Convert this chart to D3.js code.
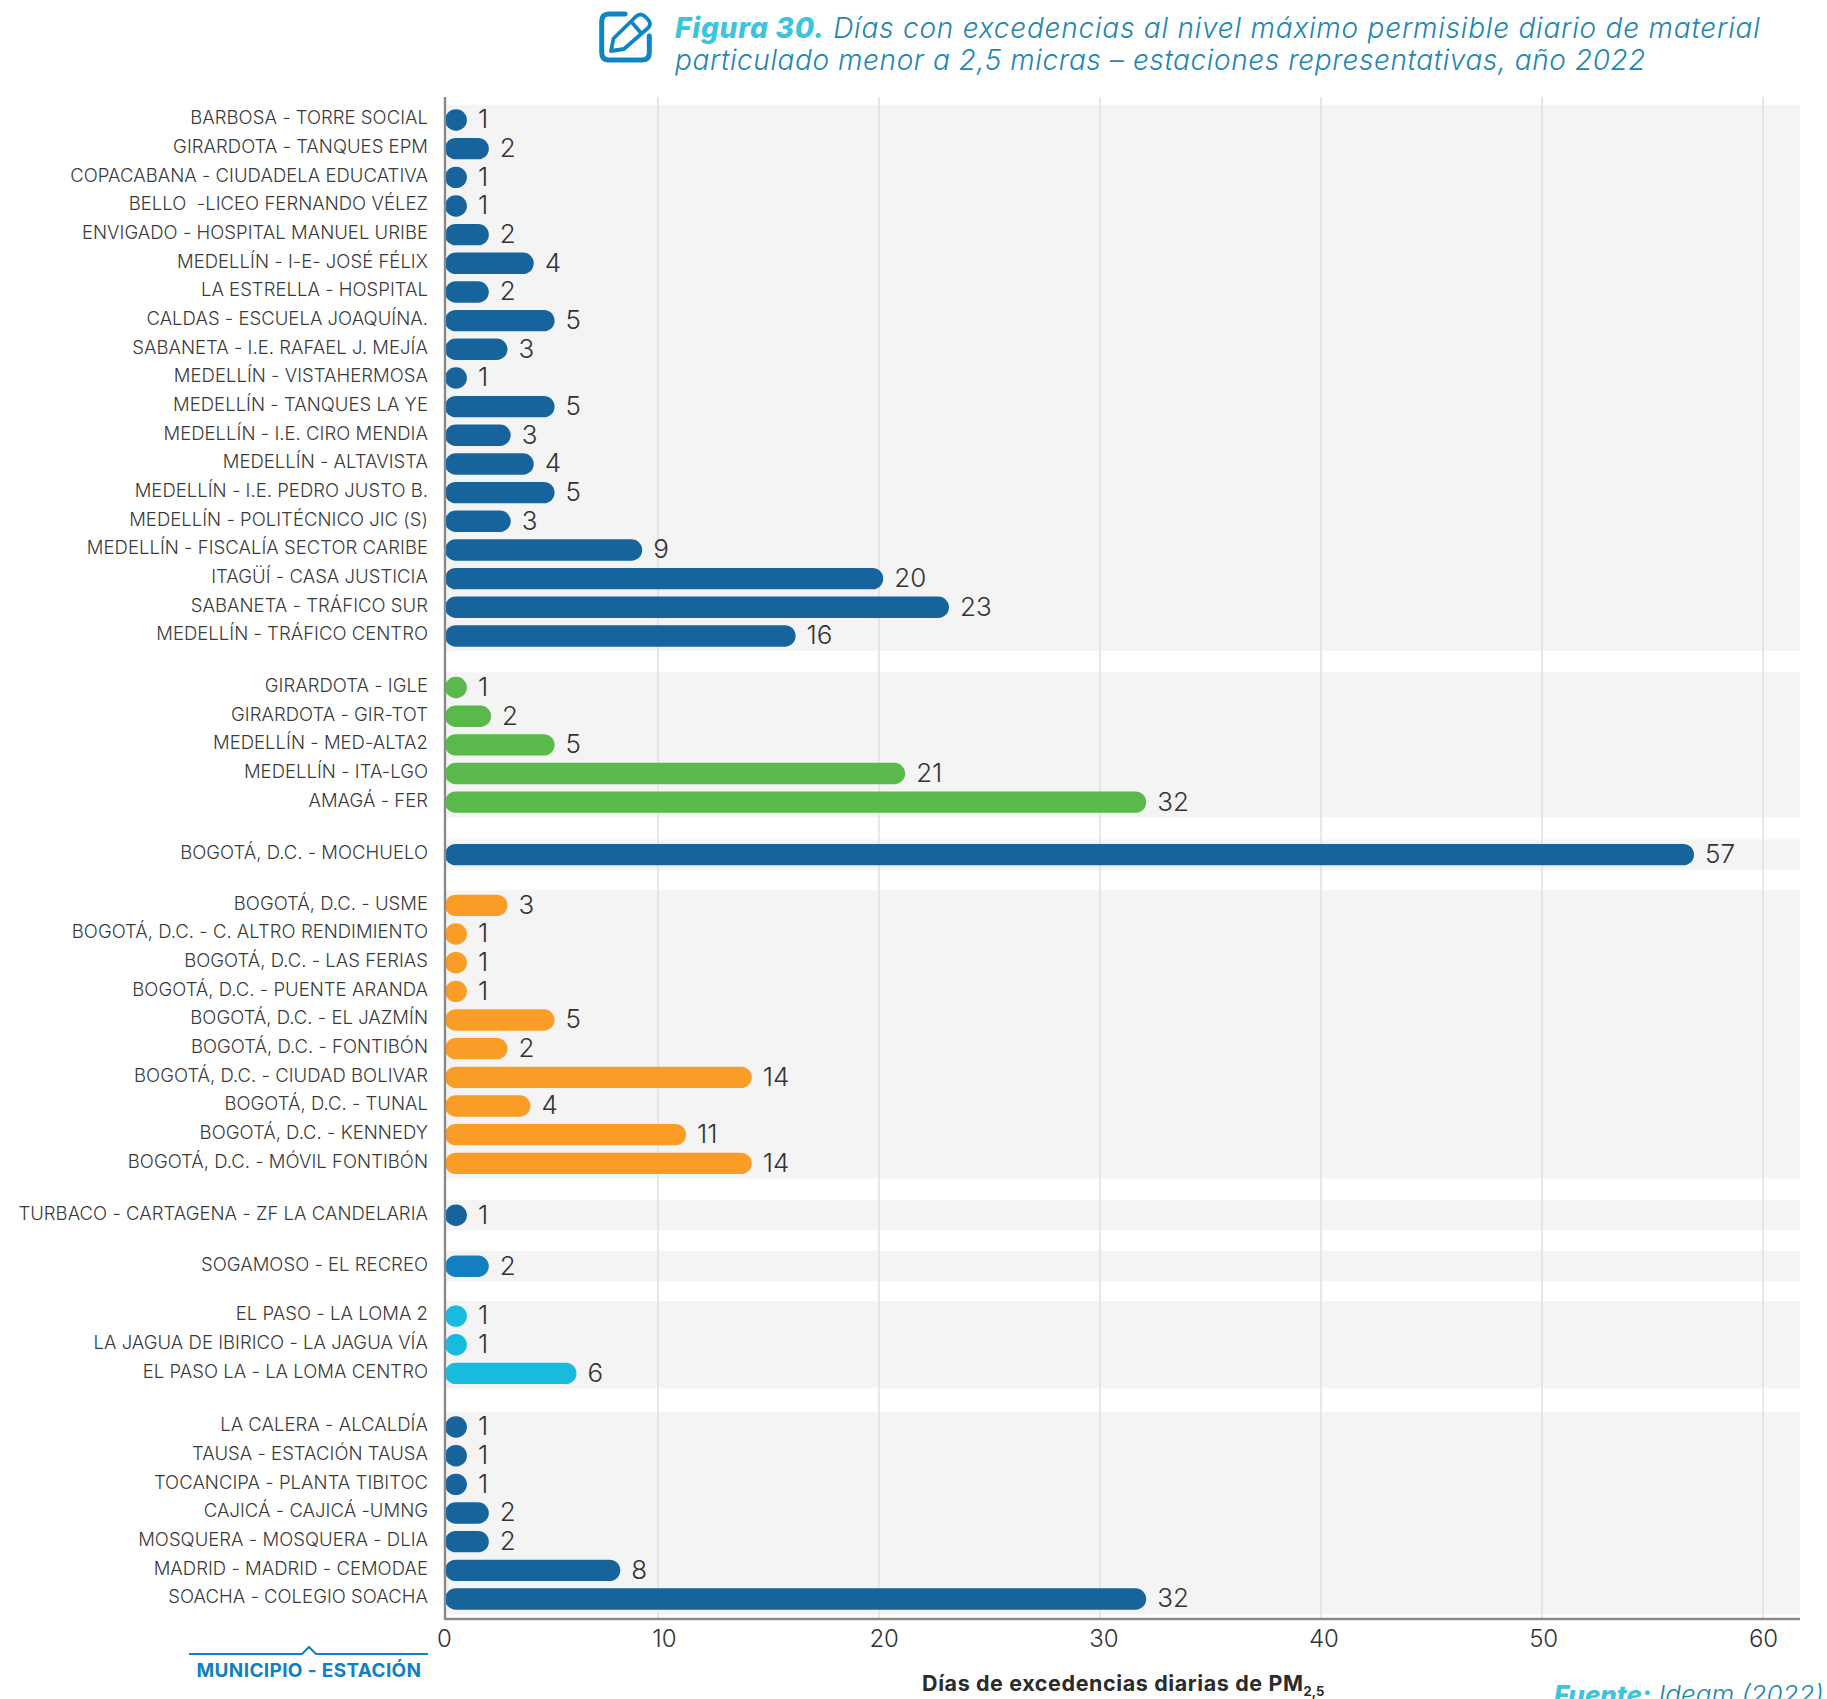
<!DOCTYPE html>
<html><head><meta charset="utf-8">
<script src="https://cdn.jsdelivr.net/npm/d3@7"></script>
<style>html,body{margin:0;padding:0;background:#fff}svg{display:block}</style>
</head><body><div id="c"></div>
<script>
const group1Labels=["BARBOSA - TORRE SOCIAL","GIRARDOTA - TANQUES EPM","COPACABANA - CIUDADELA EDUCATIVA","BELLO  -LICEO FERNANDO VÉLEZ","ENVIGADO - HOSPITAL MANUEL URIBE","MEDELLÍN - I-E- JOSÉ FÉLIX","LA ESTRELLA - HOSPITAL","CALDAS - ESCUELA JOAQUÍNA.","SABANETA - I.E. RAFAEL J. MEJÍA","MEDELLÍN - VISTAHERMOSA","MEDELLÍN - TANQUES LA YE","MEDELLÍN - I.E. CIRO MENDIA","MEDELLÍN - ALTAVISTA","MEDELLÍN - I.E. PEDRO JUSTO B.","MEDELLÍN - POLITÉCNICO JIC (S)","MEDELLÍN - FISCALÍA SECTOR CARIBE","ITAGÜÍ - CASA JUSTICIA","SABANETA - TRÁFICO SUR","MEDELLÍN - TRÁFICO CENTRO"];
const group1Values=[1,2,1,1,2,4,2,5,3,1,5,3,4,5,3,9,20,23,16];
const group1Bars=[1,2,1,1,2,4.05,2,5,2.85,1,5,3,4.05,5,3,9,20,23,16];
const group2Labels=["GIRARDOTA - IGLE","GIRARDOTA - GIR-TOT","MEDELLÍN - MED-ALTA2","MEDELLÍN - ITA-LGO","AMAGÁ - FER"];
const group2Values=[1,2,5,21,32];
const group2Bars=[1,2.1,5,21,32];
const group3Labels=["BOGOTÁ, D.C. - MOCHUELO"];
const group3Values=[57];
const group3Bars=[57];
const group4Labels=["BOGOTÁ, D.C. - USME","BOGOTÁ, D.C. - C. ALTRO RENDIMIENTO","BOGOTÁ, D.C. - LAS FERIAS","BOGOTÁ, D.C. - PUENTE ARANDA","BOGOTÁ, D.C. - EL JAZMÍN","BOGOTÁ, D.C. - FONTIBÓN","BOGOTÁ, D.C. - CIUDAD BOLIVAR","BOGOTÁ, D.C. - TUNAL","BOGOTÁ, D.C. - KENNEDY","BOGOTÁ, D.C. - MÓVIL FONTIBÓN"];
const group4Values=[3,1,1,1,5,2,14,4,11,14];
const group4Bars=[2.85,1,1,1,5,2.85,14,3.9,11,14];
const group5Labels=["TURBACO - CARTAGENA - ZF LA CANDELARIA"];
const group5Values=[1];
const group5Bars=[1];
const group6Labels=["SOGAMOSO - EL RECREO"];
const group6Values=[2];
const group6Bars=[2];
const group7Labels=["EL PASO - LA LOMA 2","LA JAGUA DE IBIRICO - LA JAGUA VÍA","EL PASO LA - LA LOMA CENTRO"];
const group7Values=[1,1,6];
const group7Bars=[1,1,6];
const group8Labels=["LA CALERA - ALCALDÍA","TAUSA - ESTACIÓN TAUSA","TOCANCIPA - PLANTA TIBITOC","CAJICÁ - CAJICÁ -UMNG","MOSQUERA - MOSQUERA - DLIA","MADRID - MADRID - CEMODAE","SOACHA - COLEGIO SOACHA"];
const group8Values=[1,1,1,2,2,8,32];
const group8Bars=[1,1,1,2,2,8,32];
const groupColors=["#17649c","#5ab94b","#17649c","#f99d27","#17649c","#117fc0","#17bbdd","#17649c"];
const xTicks=[0,10,20,30,40,50,60];
const gridTicks=[10,20,30,40,50,60];

const W=1827,H=1699,FONT="Inter, 'Open Sans', sans-serif";
const svg=d3.select("#c").append("svg").attr("width",W).attr("height",H).style("font-family",FONT);

const allLabels=[group1Labels,group2Labels,group3Labels,group4Labels,group5Labels,group6Labels,group7Labels,group8Labels];
const allValues=[group1Values,group2Values,group3Values,group4Values,group5Values,group6Values,group7Values,group8Values];
const allBars=[group1Bars,group2Bars,group3Bars,group4Bars,group5Bars,group6Bars,group7Bars,group8Bars];
const GAPS=[1.8,1.83,1.77,1.81,1.78,1.74,1.87,0];
let pos=0;
const groups=allLabels.map((ls,g)=>{
  const rows=ls.map((l,i)=>({label:l,value:allValues[g][i],bar:allBars[g][i],color:groupColors[g],p:pos+i}));
  pos+=ls.length-1+GAPS[g];
  return rows;
});
const rows=groups.flat();
const lastP=rows[rows.length-1].p;
const y=d3.scaleLinear().domain([0,lastP]).range([120,1599]);
const x=d3.scaleLinear().domain([0,57]).range([445,1694]);
const xAxisScale=d3.scaleLinear().domain([0,60]).range([444,1763]);
const xGrid=d3.scaleLinear().domain([10,60]).range([658,1763]);
const axisY=1619, rightX=1800, topY=97, barH=21.4;

// bands
svg.append("g").selectAll("rect").data(groups).join("rect")
  .attr("x",445).attr("width",rightX-445)
  .attr("y",g=>y(g[0].p)-15.2)
  .attr("height",g=>y(g[g.length-1].p)-y(g[0].p)+30.4)
  .attr("fill","#f4f4f4");
// grid
svg.append("g").selectAll("line").data(gridTicks).join("line")
  .attr("x1",d=>xGrid(d)).attr("x2",d=>xGrid(d)).attr("y1",topY).attr("y2",axisY)
  .attr("stroke","#e1e1e1").attr("stroke-width",1.6);
// bars
svg.append("g").selectAll("rect").data(rows).join("rect")
  .attr("x",x(0)).attr("y",d=>y(d.p)-barH/2)
  .attr("width",d=>x(d.bar)-x(0)).attr("height",barH)
  .attr("rx",barH/2).attr("fill",d=>d.color);
// axis lines
svg.append("line").attr("x1",445).attr("x2",445).attr("y1",topY).attr("y2",axisY+1).attr("stroke","#8a8a8a").attr("stroke-width",2.4);
svg.append("line").attr("x1",444).attr("x2",rightX).attr("y1",axisY).attr("y2",axisY).attr("stroke","#8a8a8a").attr("stroke-width",2.4);
// category labels
svg.append("g").selectAll("text").data(rows).join("text")
  .attr("x",428).attr("y",d=>y(d.p)-2.3).attr("dy","0.36em")
  .attr("text-anchor","end").attr("font-size",18.5).attr("font-weight",300)
  .attr("letter-spacing",0.03).attr("fill","#3a3a3a")
  .style("white-space","pre").text(d=>d.label);
// value labels
svg.append("g").selectAll("text").data(rows).join("text")
  .attr("x",d=>x(d.bar)+11).attr("y",d=>y(d.p)-1).attr("dy","0.36em")
  .attr("font-size",26).attr("font-weight",300).attr("fill","#333").text(d=>d.value);
// x axis tick labels
const ax=svg.append("g").attr("transform",`translate(0,${axisY+8})`)
  .call(d3.axisBottom(xAxisScale).tickValues(xTicks).tickSize(0).tickFormat(d3.format("d")));
ax.select(".domain").remove();
ax.selectAll("text").attr("font-family",FONT).attr("font-size",24).attr("font-weight",300).attr("fill","#333");

// x title
const xt=svg.append("text").attr("x",922).attr("y",1691).attr("font-size",21.5).attr("letter-spacing",0.6).attr("font-weight",700).attr("fill","#2b2b2b");
xt.append("tspan").text("Días de excedencias diarias de PM");
xt.append("tspan").attr("font-size",13).attr("letter-spacing",0).attr("dy",5).text("2,5");

// municipio - estación legend
const legendLine=d3.line();
svg.append("path").attr("d",legendLine([[189,1654],[302,1654],[309,1647],[316,1654],[428,1654]]))
  .attr("fill","none").attr("stroke","#1080c0").attr("stroke-width",2);
svg.append("text").attr("x",309).attr("y",1677).attr("text-anchor","middle").attr("font-size",19).attr("letter-spacing",0.35).attr("font-weight",700).attr("fill","#1080c0").text("MUNICIPIO - ESTACIÓN");

// source
const src=svg.append("text").attr("x",1554).attr("y",1704).attr("font-size",26).attr("font-style","italic");
src.append("tspan").attr("font-weight",800).attr("fill","#3cc4de").text("Fuente:");
src.append("tspan").attr("font-weight",300).attr("fill","#2286b0").text(" Ideam (2022)");

// title
const t1=svg.append("text").attr("x",675).attr("y",38).attr("font-size",28).attr("letter-spacing",0.78).attr("font-style","italic").attr("font-weight",300).attr("fill","#2286b0");
t1.append("tspan").attr("font-weight",800).attr("fill","#3cc4de").text("Figura 30.");
t1.append("tspan").text(" Días con excedencias al nivel máximo permisible diario de material");
svg.append("text").attr("x",675).attr("y",70).attr("font-size",28).attr("letter-spacing",0.58).attr("font-style","italic").attr("font-weight",300).attr("fill","#2286b0")
  .text("particulado menor a 2,5 micras – estaciones representativas, año 2022");

// icon
const icon=svg.append("g").attr("fill","none").attr("stroke","#0f86c4").attr("stroke-linecap","round").attr("stroke-linejoin","round");
icon.append("path").attr("stroke-width",5).attr("d","M625 14 H609 Q601.7 14 601.7 21.5 V52.5 Q601.7 60 609 60 H642 Q649.3 60 649.3 52.5 V36");
icon.append("path").attr("stroke-width",3.8).attr("d","M611 51 L613.5 38.5 L636 16.5 Q640.5 12.5 645 16.5 L648 19.5 Q652 24 648 28 L624 49 Z M631.5 22 L641 33");
</script></body></html>
